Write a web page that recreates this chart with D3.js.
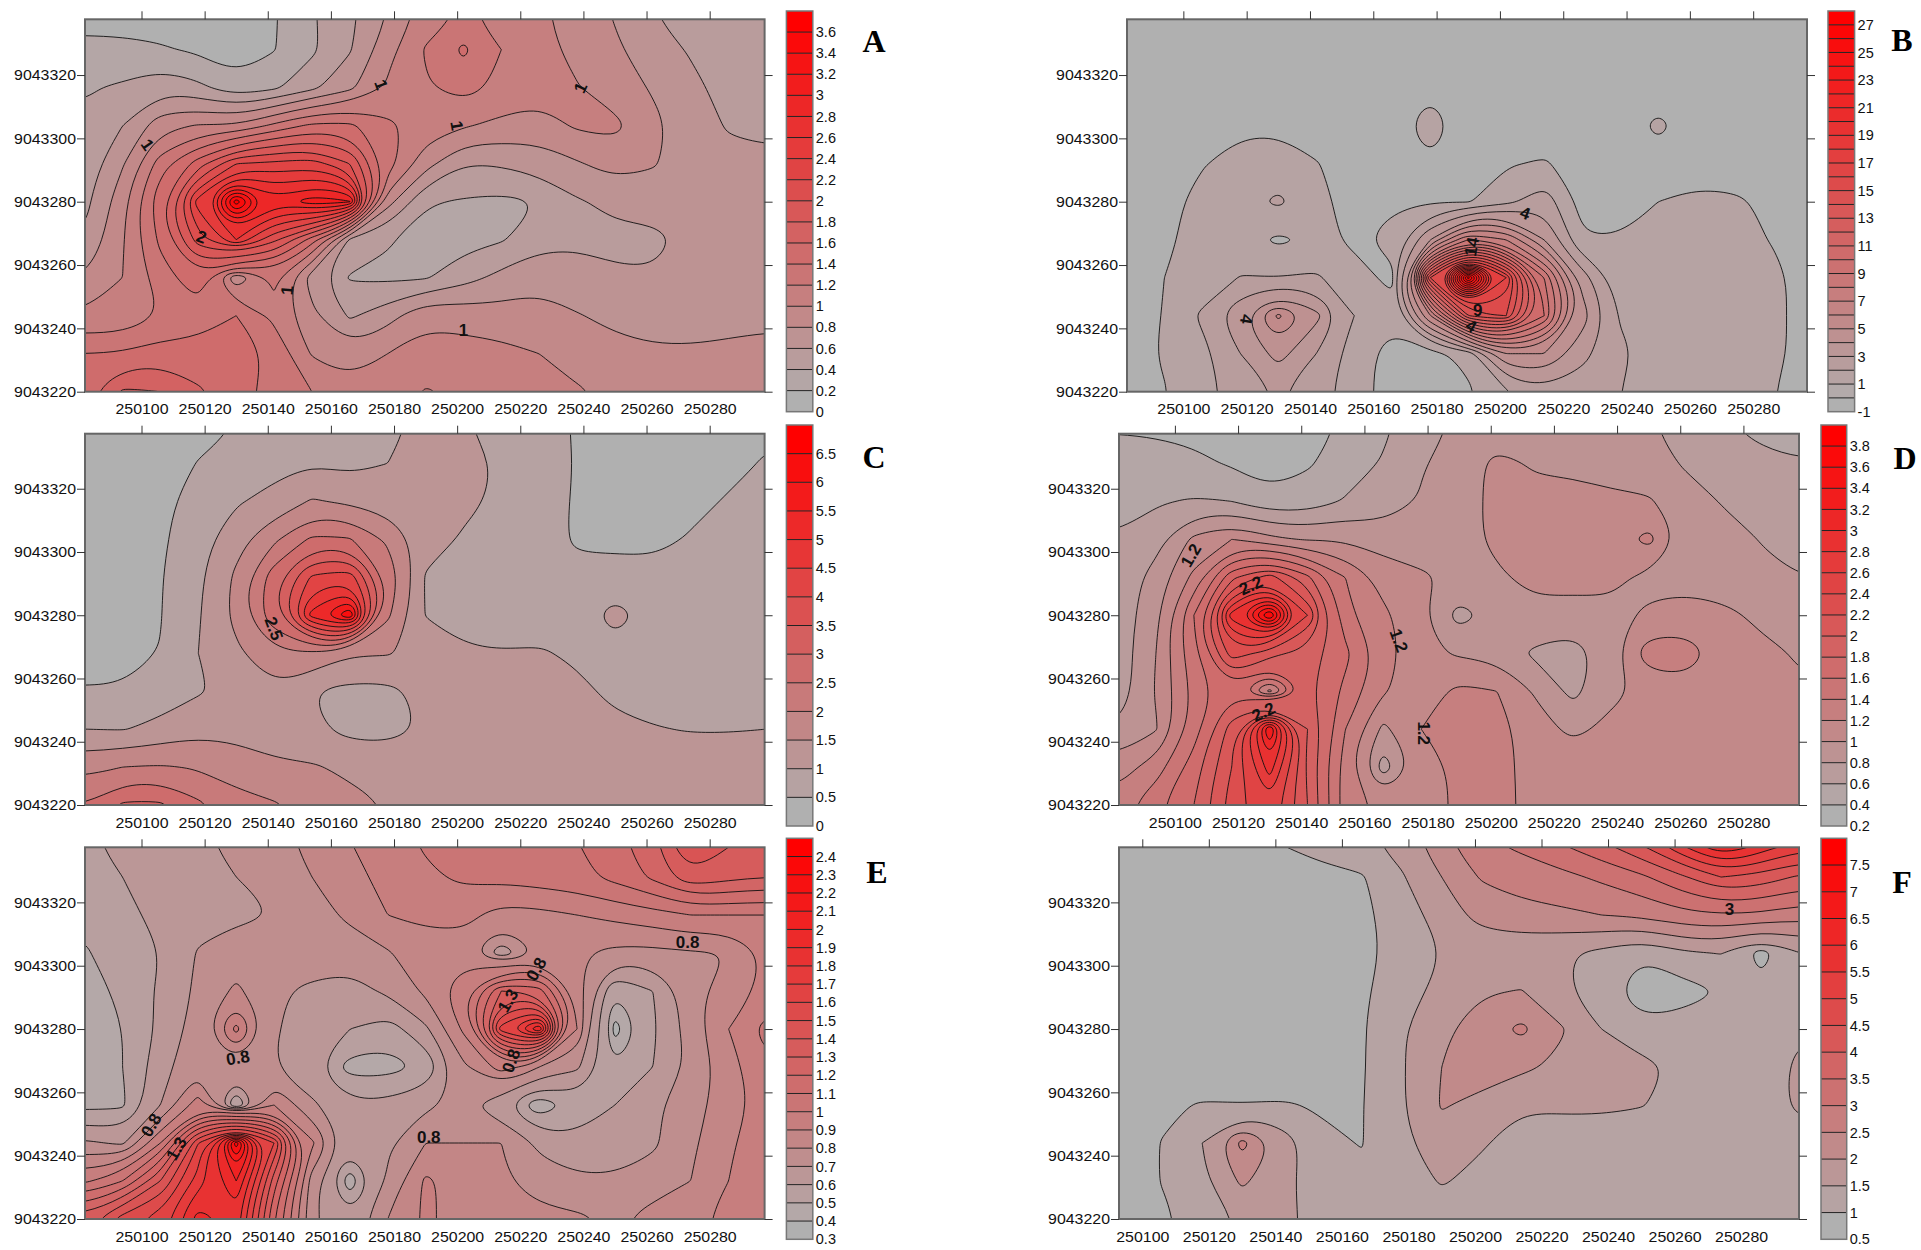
<!DOCTYPE html>
<html>
<head>
<meta charset="utf-8">
<title>Contour panels A-F</title>
<script src="https://d3js.org/d3.v7.min.js"></script>
<style>
  body { margin: 0; background: #fff; }
  text { font-family: "Liberation Sans", Arial, sans-serif; fill: #111; }
</style>
</head>
<body>
<svg id="chart" width="1921" height="1250"></svg>
<script>
// tick labels
var xTicks = [250100, 250120, 250140, 250160, 250180, 250200, 250220, 250240, 250260, 250280]
var yTicks = [9043220, 9043240, 9043260, 9043280, 9043300, 9043320]

var xNodes = [250082, 250094, 250106, 250118, 250130, 250142, 250154, 250166, 250178, 250190, 250202, 250214, 250226, 250238, 250250, 250262, 250274, 250286, 250298]
var xNodesF = xNodes.slice(1)
var yNodes = [9043340, 9043328, 9043316, 9043304, 9043292, 9043280, 9043268, 9043256, 9043244, 9043232, 9043220]

// contour levels of each panel
var levelsA = [0, 0.2, 0.4, 0.6, 0.8, 1, 1.2, 1.4, 1.6, 1.8, 2, 2.2, 2.4, 2.6, 2.8, 3, 3.2, 3.4, 3.6, 3.8]
var levelsB = [-1, 0, 1, 2, 3, 4, 5, 6, 7, 8, 9, 10, 11, 12, 13, 14, 15, 16, 17, 18, 19, 20, 21, 22, 23, 24, 25, 26, 27, 28]
var levelsC = [0, 0.5, 1, 1.5, 2, 2.5, 3, 3.5, 4, 4.5, 5, 5.5, 6, 6.5, 7]
var levelsD = [0.2, 0.4, 0.6, 0.8, 1, 1.2, 1.4, 1.6, 1.8, 2, 2.2, 2.4, 2.6, 2.8, 3, 3.2, 3.4, 3.6, 3.8, 4]
var levelsE = [0.3, 0.4, 0.5, 0.6, 0.7, 0.8, 0.9, 1, 1.1, 1.2, 1.3, 1.4, 1.5, 1.6, 1.7, 1.8, 1.9, 2, 2.1, 2.2, 2.3, 2.4, 2.5]
var levelsF = [0.5, 1, 1.5, 2, 2.5, 3, 3.5, 4, 4.5, 5, 5.5, 6, 6.5, 7, 7.5, 8]

// colour bar labels
var barLabelsB = [-1, 1, 3, 5, 7, 9, 11, 13, 15, 17, 19, 21, 23, 25, 27]

// values at the grid nodes, top row first
var gridA = [
  [.15, .12, .10, .08, .05, .18, .38, .55, .80, 1.08, 1.22, 1.15, 1.03, .92, .78, .60, .46, .36, .41],
  [.23, .24, .22, .17, .08, .19, .36, .58, .93, 1.22, 1.44, 1.20, 1.06, .95, .83, .70, .58, .50, .46],
  [.38, .43, .54, .45, .27, .36, .55, .75, 1.03, 1.18, 1.28, 1.15, 1.10, 1.01, .90, .78, .65, .53, .48],
  [.44, .60, .92, 1.02, 1.02, 1.25, 1.45, 1.45, 1.25, 1.10, 1.02, .95, .90, 1.03, 1.05, .85, .70, .58, .58],
  [.47, .78, 1.30, 1.70, 2.20, 2.25, 2.30, 2.00, 1.30, .88, .60, .62, .70, .78, .88, .82, .70, .66, .62],
  [.54, .93, 1.55, 2.50, 3.70, 2.85, 3.12, 3.02, .88, .42, .38, .35, .40, .58, .65, .68, .72, .72, .70],
  [.62, .98, 1.45, 2.10, 2.60, 2.05, 1.50, .55, .42, .32, .33, .38, .52, .56, .55, .55, .65, .72, .72],
  [.80, 1.00, 1.30, 1.55, .85, 1.25, .70, .38, .36, .38, .52, .66, .76, .70, .63, .62, .68, .72, .75],
  [1.03, 1.03, 1.20, 1.30, 1.40, 1.15, .85, .57, .72, .97, .92, .88, .85, .81, .76, .72, .74, .74, .76],
  [1.40, 1.42, 1.50, 1.48, 1.52, 1.35, .98, .88, 1.00, 1.05, 1.08, 1.06, 1.00, .92, .85, .83, .82, .84, .85],
  [1.52, 1.84, 1.80, 1.63, 1.50, 1.30, 1.20, 1.08, 1.08, 1.22, 1.16, 1.10, 1.05, 1.02, .96, .93, .92, .90, .90]
]

var gridB = [
  [.3, .3, .3, .3, .3, .3, .3, .3, .3, .3, .3, .3, .3, .3, .3, .3, .3, .3, .3],
  [.35, .35, .35, .35, .35, .35, .35, .35, .35, .35, .35, .35, .35, .35, .35, .35, .35, .35, .35],
  [.4, .4, .4, .4, .4, .4, .4, .4, .8, .4, .4, .4, .4, .4, .4, .4, .4, .4, .4],
  [.4, .45, .5, .85, .85, .55, .5, .6, 1.5, .5, .45, .45, .45, .45, 1.25, .45, .4, .4, .4],
  [.4, .5, .95, 1.3, 1.4, 1.05, .6, .7, .9, .6, .92, 1.1, .6, .5, .5, .5, .5, .4, .4],
  [.5, .75, 1.25, 1.6, 2.2, 1.3, .6, .9, .95, .9, 1.7, 2.6, .7, .6, 1.0, 1.25, 1.15, .8, .5],
  [.5, .85, 1.3, 1.45, .8, 1.25, .85, 1.25, 4, 8, 7, 4, 1.05, 1.05, 1.2, 1.4, 1.3, .95, .4],
  [.5, 1.0, 1.3, 2.05, 2.0, 2.15, 1.3, .8, 15, 27.5, 17, 9, 3.5, 1.35, 1.4, 1.45, 1.5, 1.25, .6],
  [.5, 1.05, 2.2, 3.9, 6.2, 4.3, 2, 1.3, 6, 14, 15, 10, 4.5, 1.9, 1.35, 1.4, 1.5, 1.3, .5],
  [.6, 1.1, 1.7, 3, 4.4, 3, 1.5, .6, .7, 1.3, 5, 5, 3.3, 2.2, 1.55, 1.5, 1.5, 1.25, .6],
  [.5, .95, 1.7, 2.4, 3.1, 2.5, 1.4, .6, .5, .85, 1.9, 2.7, 2.5, 2, 1.6, 1.5, 1.45, 1.05, .5]
]

var gridC = [
  [.2, .2, .25, .35, .5, .7, .78, .85, .95, 1.05, 1.02, .9, .62, .47, .35, .3, .3, .3, .4],
  [.2, .2, .28, .52, .7, .85, .98, .85, 1.0, 1.15, 1.2, .93, .72, .47, .3, .3, .3, .35, .55],
  [.2, .25, .4, .65, .95, 1.15, 1.55, 1.4, 1.25, 1.2, 1.1, .92, .7, .45, .3, .3, .35, .55, .7],
  [.2, .2, .42, .8, 1.3, 1.9, 2.6, 2.55, 1.9, 1.2, .95, .8, .65, .45, .35, .35, .55, .7, .8],
  [.2, .22, .47, .9, 1.6, 2.8, 4.1, 4.3, 2.4, .95, .82, .78, .7, .6, .75, .7, .75, .8, .85],
  [.22, .28, .48, .95, 1.65, 2.9, 5.2, 6.4, 2.1, .98, .85, .8, .78, .8, 1.15, .85, .85, .85, .88],
  [.22, .3, .52, 1.0, 1.4, 1.9, 1.95, 1.55, 1.55, 1.3, 1.05, 1.02, 1.05, .92, .85, .85, .85, .88, .9],
  [.55, .55, .7, .95, 1.15, 1.4, 1.0, .85, .87, 1.15, 1.2, 1.2, 1.2, 1.1, .9, .85, .85, .85, .85],
  [1.0, .97, 1.15, 1.35, 1.35, 1.2, 1.1, .85, .85, 1.05, 1.2, 1.22, 1.25, 1.25, 1.1, 1.02, .98, .98, 1.0],
  [1.85, 2.0, 2.05, 1.95, 1.75, 1.6, 1.55, 1.4, 1.3, 1.25, 1.25, 1.25, 1.25, 1.25, 1.25, 1.22, 1.2, 1.2, 1.2],
  [2.5, 3.1, 3.1, 2.6, 2.2, 2.05, 1.85, 1.65, 1.48, 1.3, 1.25, 1.25, 1.25, 1.25, 1.25, 1.25, 1.25, 1.25, 1.25]
]

var gridD = [
  [.38, .36, .34, .32, .28, .34, .42, .56, .72, .83, .88, .9, .9, .88, .82, .7, .62, .52, .48],
  [.47, .48, .44, .38, .3, .38, .48, .62, .78, .9, 1.05, .98, .96, .92, .9, .77, .72, .66, .62],
  [.52, .58, .62, .6, .46, .48, .62, .68, .82, .92, 1.05, 1.05, 1.06, 1.04, 1.02, .9, .78, .72, .68],
  [.62, .72, 1.05, 1.2, 1.05, .98, .98, .92, .93, .95, 1.03, 1.06, 1.08, 1.1, 1.26, .92, .88, .79, .72],
  [.66, .88, 1.25, 1.95, 2.3, 1.85, 1.4, 1.1, 1.02, .97, .98, 1.04, 1.06, 1.05, .95, .93, .88, .84, .8],
  [.67, .95, 1.6, 2.9, 3.8, 2.4, 1.45, 1.25, 1.03, .72, .88, .96, .93, .95, 1.03, 1.08, 1.05, .95, .88],
  [.68, 1.0, 1.55, 2.3, 2.1, 1.9, 1.65, 1.3, 1.05, .97, .93, .76, .7, .92, 1.32, 1.3, 1.1, 1.05, .98],
  [.68, 1.02, 1.45, 1.75, 1.15, 1.85, 1.55, 1.22, 1.1, 1.25, 1.2, .98, .74, .95, 1.05, 1.12, 1.08, 1.08, 1.02],
  [.82, .98, 1.5, 2.1, 3.4, 2.0, 1.4, .95, 1.2, 1.3, 1.28, 1.08, .95, 1.05, 1.12, 1.12, 1.12, 1.12, 1.12],
  [1.1, 1.3, 1.7, 2.2, 2.9, 1.95, 1.3, .7, 1.1, 1.25, 1.27, 1.12, 1.14, 1.14, 1.14, 1.14, 1.14, 1.14, 1.14],
  [1.3, 1.55, 1.8, 2.3, 2.55, 2, 1.3, 1.15, 1.15, 1.22, 1.25, 1.15, 1.14, 1.14, 1.14, 1.14, 1.14, 1.14, 1.14]
]

var gridE = [
  [.59, .62, .64, .69, .72, .78, .82, .9, .95, 1.02, 1.04, 1.05, 1.07, 1.1, 1.17, 1.28, 1.56, 1.42, 1.35],
  [.55, .6, .63, .67, .7, .74, .8, .86, .94, .98, 1.02, 1.03, 1.05, 1.07, 1.13, 1.22, 1.38, 1.33, 1.3],
  [.52, .57, .63, .66, .68, .7, .76, .82, .9, .92, .93, .86, .87, .9, .93, .96, 1.0, 1.0, 1.0],
  [.49, .55, .6, .71, .75, .76, .78, .75, .79, .86, .85, .64, .8, .81, .77, .77, .79, .8, .92],
  [.46, .52, .62, .72, .82, .72, .67, .66, .72, .82, .98, 1.3, 1.25, .85, .5, .6, .76, .86, .92],
  [.45, .5, .62, .75, 1.03, .72, .6, .6, .55, .68, .92, 1.65, 1.98, .9, .36, .58, .75, .9, 1.04],
  [.45, .5, .66, .78, .78, .7, .62, .46, .46, .52, .78, .95, .8, .72, .5, .6, .72, .86, .98],
  [.47, .48, .7, .95, .5, .9, .72, .62, .63, .68, .73, .62, .42, .55, .6, .68, .76, .85, .95],
  [.72, .68, 1.0, 1.6, 2.35, 1.6, .92, .65, .68, .8, .8, .8, .68, .62, .62, .68, .78, .88, .98],
  [.98, 1.1, 1.4, 1.75, 2.0, 1.35, .75, .44, .72, .92, .85, .82, .74, .72, .72, .75, .8, .9, 1.0],
  [1.35, 1.55, 1.65, 1.95, 1.85, 1.2, .72, .62, .8, .92, .85, .85, .84, .82, .78, .84, .88, .92, 1.0]
]

var gridF = [
  [.6, .6, .7, .85, 1.05, 1.2, 1.4, 1.7, 2.4, 2.95, 3.2, 3.6, 4.05, 4.7, 5.8, 7.2, 6.2, 5.5],
  [.6, .6, .65, .7, .75, .88, .95, 1.45, 2, 2.55, 2.7, 2.85, 3.1, 3.4, 3.9, 4.5, 4.3, 3.9],
  [.6, .6, .6, .65, .7, .75, .88, 1.25, 1.72, 2.2, 2.35, 2.4, 2.5, 2.6, 2.85, 2.95, 2.9, 2.7],
  [.6, .6, .6, .6, .65, .7, .85, 1.2, 1.5, 1.62, 1.62, 1.55, 1.38, 1.05, 1.42, 1.52, .8, 1.5],
  [.6, .6, .6, .6, .65, .7, .9, 1.35, 1.6, 1.95, 2.02, 1.58, 1.25, .7, .8, 1.0, 1.15, 1.25],
  [.6, .6, .6, .6, .65, .75, .95, 1.45, 1.9, 2.25, 2.62, 2.05, 1.5, 1.15, 1.2, 1.22, 1.25, 1.45],
  [.6, .6, .6, .6, .65, .7, .95, 1.45, 2.0, 2.3, 2.1, 1.9, 1.7, 1.65, 1.4, 1.28, 1.28, 1.6],
  [.7, .9, 1.05, 1.02, 1.05, .95, .98, 1.45, 2.05, 1.82, 1.55, 1.58, 1.58, 1.52, 1.38, 1.28, 1.28, 1.6],
  [.75, 1.02, 1.5, 2.65, 1.8, 1.1, .98, 1.4, 1.75, 1.55, 1.3, 1.25, 1.25, 1.25, 1.25, 1.25, 1.25, 1.3],
  [.75, 1.02, 1.4, 2.1, 1.65, 1.2, 1.1, 1.25, 1.55, 1.35, 1.2, 1.2, 1.2, 1.2, 1.2, 1.2, 1.2, 1.2],
  [.8, .92, 1.2, 1.58, 1.6, 1.35, 1.15, 1.15, 1.2, 1.2, 1.2, 1.2, 1.2, 1.2, 1.2, 1.2, 1.2, 1.2]
]

// labels written on the contour lines: [text, easting, northing, rotation]
var linesA = [["1", 250176, 9043317, 70], ["1", 250239, 9043316, -65], ["1", 250200, 9043304, 80], ["1", 250102, 9043298, 55], ["2", 250119, 9043269, 20], ["1", 250146, 9043252, -85], ["1", 250202, 9043239.5, 0]]
var linesB = [["4", 250208, 9043276.5, 20], ["14", 250191, 9043265.8, -80], ["9", 250193, 9043245.8, 0], ["4", 250191, 9043240.8, 30], ["4", 250120, 9043242.9, 100]]
var linesC = [["2.5", 250142, 9043275.8, 70]]
var linesD = [["1.2", 250105, 9043299, -60], ["2.2", 250124, 9043289.5, -25], ["1.2", 250171, 9043272, 70], ["2.2", 250128, 9043249.5, -25], ["1.2", 250179, 9043242.7, 90]]
var linesE = [["0.8", 250273, 9043307.6, 0], ["0.8", 250225, 9043299, -60], ["0.8", 250130.5, 9043271, -10], ["1.3", 250216, 9043289, -60], ["0.8", 250217, 9043270, -70], ["0.8", 250103, 9043249.7, -60], ["1.3", 250111, 9043242.3, -60], ["0.8", 250191, 9043246, 0]]
var linesF = [["3", 250276.5, 9043317.8, 0]]

var svg = d3.select("#chart")
var pad = 1 // one repeated row/column round the grid, so lines run past the frame and get clipped

// one panel: frame, filled contours, axes, colour bar
function drawPanel(p) {
  var xScale = d3.scaleLinear().domain(p.xDomain).range([p.left, p.right])
  var yScale = d3.scaleLinear().domain(p.yDomain).range([p.bottom, p.top])
  var nx = p.xs.length, ny = yNodes.length
  var xStep = p.xs[1] - p.xs[0], yStep = yNodes[0] - yNodes[1]

  // flat array for d3.contours, edges repeated
  var flat = []
  for (var j = -pad; j < ny + pad; j++) {
    for (var i = -pad; i < nx + pad; i++) {
      flat.push(p.grid[Math.max(0, Math.min(ny - 1, j))][Math.max(0, Math.min(nx - 1, i))])
    }
  }

  var contours = d3.contours()
    .size([nx + 2 * pad, ny + 2 * pad])
    .thresholds(p.levels.slice(1, -1))(flat)

  var color = d3.scaleLinear().domain([0, p.levels.length - 2]).range(["#b0b0b0", "#ff0000"])
  // B never goes under 0, its lowest area is still plain grey
  var fillOf = (d, i) => d.value <= (p.greyUpTo === undefined ? -Infinity : p.greyUpTo) ? color(0) : color(i + 1)

  var ringLine = d3.line()
    .x(d => xScale(p.xs[0] + xStep * (d[0] - 0.5 - pad)))
    .y(d => yScale(yNodes[0] - yStep * (d[1] - 0.5 - pad)))
    .curve(d3.curveBasisClosed)

  var pathOf = function (c) {
    var s = ""
    c.coordinates.forEach(function (poly) {
      poly.forEach(function (ring) { s += ringLine(ring.slice(0, -1)) })
    })
    return s
  }

  svg.append("clipPath").attr("id", "clip" + p.name)
    .append("rect")
    .attr("x", p.left).attr("y", p.top)
    .attr("width", p.right - p.left).attr("height", p.bottom - p.top)

  var g = svg.append("g").attr("clip-path", "url(#clip" + p.name + ")")

  // level 0 band under everything
  g.append("rect")
    .attr("x", p.left).attr("y", p.top)
    .attr("width", p.right - p.left).attr("height", p.bottom - p.top)
    .attr("fill", color(0))

  g.selectAll(".band").data(contours).join("path")
    .attr("fill", fillOf)
    .attr("fill-rule", "evenodd")
    .attr("d", pathOf)

  g.selectAll(".iso").data(contours).join("path")
    .attr("fill", "none")
    .attr("stroke", "#111")
    .attr("stroke-width", 0.9)
    .attr("d", pathOf)

  // contour line labels
  svg.append("g").selectAll("text").data(p.lineLabels).join("text")
    .attr("transform", d => "translate(" + xScale(d[1]) + "," + yScale(d[2]) + ") rotate(" + d[3] + ")")
    .attr("text-anchor", "middle").attr("dy", "0.36em")
    .style("font-size", "17px").style("font-weight", "bold")
    .text(d => d[0])

  svg.append("rect")
    .attr("x", p.left).attr("y", p.top)
    .attr("width", p.right - p.left).attr("height", p.bottom - p.top)
    .attr("fill", "none").attr("stroke", "#666").attr("stroke-width", 2)

  // axes
  var styleAxis = function (sel) {
    sel.select(".domain").remove()
    sel.selectAll("line").attr("stroke", "#333")
    sel.selectAll("text")
      .style("font-size", "15px")
      .attr("textLength", function () { return this.textContent.length * 8.85 })
      .attr("lengthAdjust", "spacingAndGlyphs")
  }
  svg.append("g").attr("transform", "translate(0," + p.top + ")")
    .call(d3.axisTop(xScale).tickValues(xTicks).tickSize(8).tickFormat("")).call(styleAxis)
  svg.append("g").attr("transform", "translate(0," + p.bottom + ")")
    .call(d3.axisBottom(xScale).tickValues(xTicks).tickSize(0).tickPadding(12).tickFormat(d3.format("d"))).call(styleAxis)
  svg.append("g").attr("transform", "translate(" + p.left + ",0)")
    .call(d3.axisLeft(yScale).tickValues(yTicks).tickSize(8).tickPadding(1).tickFormat(d3.format("d"))).call(styleAxis)
  svg.append("g").attr("transform", "translate(" + p.right + ",0)")
    .call(d3.axisRight(yScale).tickValues(yTicks).tickSize(8).tickFormat("")).call(styleAxis)

  // colour bar
  var barY = d3.scaleLinear()
    .domain([p.levels[0], p.levels[p.levels.length - 1]])
    .range([p.barBottom, p.barTop])
  var bands = d3.pairs(p.levels)
  svg.append("g").selectAll("rect").data(bands).join("rect")
    .attr("x", p.barLeft).attr("width", p.barRight - p.barLeft)
    .attr("y", d => barY(d[1])).attr("height", d => barY(d[0]) - barY(d[1]))
    .attr("fill", (d, i) => color(i))
  svg.append("g").selectAll("line").data(p.levels.slice(1, -1)).join("line")
    .attr("x1", p.barLeft).attr("x2", p.barRight)
    .attr("y1", d => barY(d)).attr("y2", d => barY(d))
    .attr("stroke", "#222").attr("stroke-width", 1)
  svg.append("rect")
    .attr("x", p.barLeft).attr("y", p.barTop)
    .attr("width", p.barRight - p.barLeft).attr("height", p.barBottom - p.barTop)
    .attr("fill", "none").attr("stroke", "#777").attr("stroke-width", 1.5)
  var barAxis = svg.append("g").attr("transform", "translate(" + p.barRight + ",0)")
    .call(d3.axisRight(barY).tickValues(p.barLabels).tickSize(0).tickPadding(3).tickFormat(d => String(d)))
  barAxis.select(".domain").remove()
  barAxis.selectAll("text").style("font-size", "14.5px")

  // panel letter
  svg.append("text")
    .attr("x", p.letterX).attr("y", p.letterY)
    .attr("text-anchor", "middle")
    .style("font-family", "'Liberation Serif', serif")
    .style("font-size", "32px").style("font-weight", "bold").style("fill", "#000")
    .text(p.name)
}

var commonY1 = { top: 19.3, bottom: 391.7, yDomain: [9043220, 9043337.6], barTop: 11, barBottom: 411.7 }
var commonY2 = { top: 433.7, bottom: 805, yDomain: [9043220, 9043337.4], barTop: 425, barBottom: 826 }
var commonY3 = { top: 847.3, bottom: 1219, yDomain: [9043220, 9043337.4], barTop: 838.3, barBottom: 1239.3 }

drawPanel(Object.assign({ name: "A", grid: gridA, xs: xNodes, levels: levelsA, barLabels: levelsA.slice(0, -1), lineLabels: linesA,
  left: 85, right: 764.6, xDomain: [250082.1, 250297.4], barLeft: 786.4, barRight: 812.8, letterX: 874, letterY: 52 }, commonY1))
drawPanel(Object.assign({ name: "B", grid: gridB, xs: xNodes, levels: levelsB, barLabels: barLabelsB, lineLabels: linesB, greyUpTo: 0,
  left: 1127, right: 1807, xDomain: [250082.2, 250297], barLeft: 1828, barRight: 1854.6, letterX: 1902, letterY: 51 }, commonY1))
drawPanel(Object.assign({ name: "C", grid: gridC, xs: xNodes, levels: levelsC, barLabels: levelsC.slice(0, -1), lineLabels: linesC,
  left: 85, right: 764.6, xDomain: [250082.1, 250297.4], barLeft: 786.4, barRight: 812.8, letterX: 874, letterY: 468 }, commonY2))
drawPanel(Object.assign({ name: "D", grid: gridD, xs: xNodes, levels: levelsD, barLabels: levelsD.slice(0, -1), lineLabels: linesD,
  left: 1119, right: 1799, xDomain: [250082.3, 250297.6], barLeft: 1821, barRight: 1846.7, letterX: 1905, letterY: 469 }, commonY2))
drawPanel(Object.assign({ name: "E", grid: gridE, xs: xNodes, levels: levelsE, barLabels: levelsE.slice(0, -1), lineLabels: linesE,
  left: 85, right: 764.6, xDomain: [250082.1, 250297.4], barLeft: 786.4, barRight: 812.8, letterX: 877, letterY: 883 }, commonY3))
drawPanel(Object.assign({ name: "F", grid: gridF, xs: xNodesF, levels: levelsF, barLabels: levelsF.slice(0, -1), lineLabels: linesF,
  left: 1119, right: 1799, xDomain: [250093, 250297.4], barLeft: 1821, barRight: 1846.7, letterX: 1902, letterY: 893 }, commonY3))
</script>
</body>
</html>
